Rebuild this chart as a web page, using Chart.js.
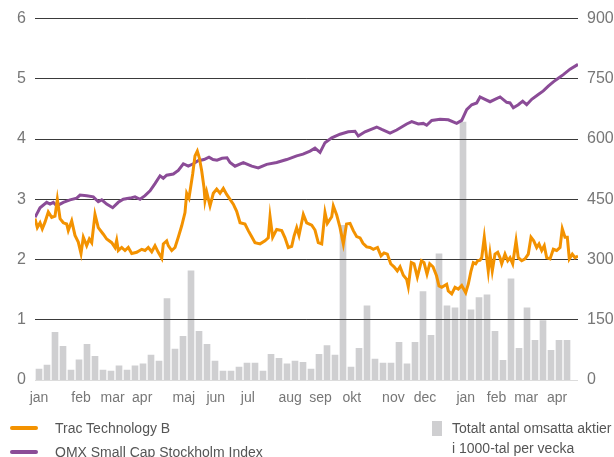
<!DOCTYPE html>
<html>
<head>
<meta charset="utf-8">
<script src="https://cdn.jsdelivr.net/npm/chart.js@4"></script>
<style>
  html, body { margin: 0; padding: 0; background: #fff; }
  #wrap { position: relative; width: 614px; height: 457px; overflow: hidden; font-family: "Liberation Sans", Arial, sans-serif; color: #555; }
  #chart { position: absolute; left: 0; top: 0; }
  .sw { position: absolute; height: 4px; width: 28px; border-radius: 2px; }
  .lbl { position: absolute; font-size: 14px; line-height: 16px; white-space: nowrap; }
  .box { position: absolute; width: 10px; height: 15px; background: #cfcfd1; }
</style>
</head>
<body>
<div id="wrap">
  <canvas id="chart" width="614" height="457"></canvas>
  <div class="sw" style="left:10px; top:426px; background:#f39200"></div>
  <div class="lbl" style="left:55px; top:420px">Trac Technology B</div>
  <div class="sw" style="left:10px; top:450px; background:#8b4c97"></div>
  <div class="lbl" style="left:55px; top:444px">OMX Small Cap Stockholm Index</div>
  <div class="box" style="left:432px; top:421px"></div>
  <div class="lbl" style="left:452px; top:420px">Totalt antal omsatta aktier</div>
  <div class="lbl" style="left:452px; top:440px">i 1000-tal per vecka</div>
</div>
<script>
/* ---- Data (x = veckor från start) ---- */
const monthLabels = ['jan','feb','mar','apr','maj','jun','jul','aug','sep','okt','nov','dec','jan','feb','mar','apr'];
const monthWeeks  = [0.5, 5.75, 9.7, 13.4, 18.6, 22.6, 26.6, 31.9, 35.7, 39.6, 44.8, 48.75, 53.85, 57.7, 61.4, 65.25];

// Totalt antal omsatta aktier per vecka (1000-tal)
const volume = [27,37,119,84,25,50,89,59,25,22, 35,25,35,40,62,47,203,77,109,272,
  121,89,47,22,22,32,42,42,22,64, 54,40,47,44,27,64,86,62,385,32,
  79,185,52,42,42,94,40,94,220,111, 314,185,180,642,175,205,212,121,49,252,
  79,180,99,148,74,99,99];

// Trac Technology B
const tracWeek = [0,0.29,0.63,0.91,1.25,1.66,2.09,2.5,2.79,3.13,3.54,3.96,4.16,4.59,5,5.41,5.75,6.04,6.46,6.79,
  7.09,7.5,7.91,8.54,8.96,9.59,10,10.21,10.41,10.84,11.25,11.66,12.09,12.71,13.34,13.75,14.16,14.59,15,15.41,
  15.84,16.04,16.46,16.66,17.09,17.5,17.91,18.34,18.75,18.96,19.25,19.71,20,20.29,20.54,20.84,21.13,21.25,21.46,21.88,
  22.29,22.71,23.13,23.54,23.96,24.38,24.79,25.21,25.63,26.25,26.66,27.09,27.5,28.13,28.75,29.16,29.38,29.71,30.21,30.84,
  31.25,31.66,32.09,32.38,32.71,33,33.54,33.96,34.59,35,35.41,35.84,36.25,36.54,37.09,37.29,37.71,38.13,38.54,38.94,
  39.38,39.79,40.21,40.63,41,41.46,41.88,42.29,42.81,43.25,43.63,44.04,44.46,44.88,45.29,45.63,46.04,46.46,46.66,47.04,
  47.38,47.79,48.31,48.63,49,49.34,49.75,50.19,50.5,50.84,51.46,51.66,52.09,52.5,52.91,53.34,53.84,54.16,54.5,54.79,
  55.09,55.34,55.63,55.84,56.16,56.46,56.66,56.88,57.16,57.5,57.84,58.13,58.34,58.75,59.09,59.38,59.71,60.13,60.41,60.84,
  61.25,61.66,62,62.34,62.71,63,63.34,63.66,63.96,64.38,64.79,65.21,65.63,65.91,66.25,66.54,66.79,67.16,67.5,67.875];
const tracPrice = [2.68,2.53,2.61,2.51,2.62,2.79,2.70,2.72,3.00,2.68,2.61,2.59,2.48,2.64,2.40,2.29,2.10,2.37,2.23,2.34,
  2.28,2.75,2.53,2.42,2.34,2.28,2.20,2.32,2.15,2.20,2.15,2.20,2.10,2.12,2.17,2.15,2.20,2.13,2.23,2.12,
  2.02,2.26,2.31,2.23,2.15,2.20,2.37,2.56,2.78,3.10,3.02,3.42,3.72,3.80,3.69,3.47,3.19,2.98,3.12,2.89,
  3.10,3.17,3.10,3.18,3.08,3.00,2.92,2.80,2.61,2.59,2.48,2.38,2.28,2.26,2.31,2.36,2.71,2.37,2.50,2.48,
  2.36,2.20,2.22,2.39,2.53,2.40,2.75,2.61,2.57,2.49,2.28,2.26,2.78,2.60,2.71,2.89,2.74,2.53,2.26,2.59,
  2.60,2.48,2.38,2.36,2.27,2.21,2.20,2.17,2.20,2.06,2.11,2.09,1.93,1.88,1.81,1.88,1.74,1.67,1.55,1.95,
  1.93,1.71,1.98,1.95,1.76,1.93,1.88,1.73,1.56,1.54,1.59,1.48,1.43,1.54,1.51,1.57,1.45,1.59,1.81,1.95,
  1.93,1.98,1.99,2.03,2.37,2.03,1.81,2.09,1.81,2.09,2.12,2.03,1.93,2.09,1.98,2.03,1.93,2.31,2.03,1.98,
  2.01,2.09,2.37,2.31,2.20,2.26,2.15,2.23,2.03,2.01,2.17,2.15,2.20,2.51,2.37,2.37,2.01,2.09,2.03,2.06];

// OMX Small Cap Stockholm Index (omräknat)
const omxWeek = [0,0.63,1.46,1.88,2.29,2.71,3.13,3.54,4.38,5.21,5.63,6.46,7.29,7.91,8.34,8.96,9.71,10.41,11.04,11.88,
  12.5,13.13,13.75,14.38,15,15.63,16.04,16.46,17.29,17.91,18.54,19.16,19.79,20.38,21.13,21.75,22.25,22.75,23.38,24,
  24.38,25,26.04,27.09,27.91,28.96,30.21,31.46,32.71,33.5,34.38,35,35.63,36.25,37.09,38.13,39.16,40,40.41,41.25,
  42.71,43.34,44.38,45.21,46.46,47.09,47.91,48.54,48.96,49.59,50.63,51.66,52.71,53.34,53.96,54.59,55.21,55.63,56.25,56.88,
  58.13,58.96,59.38,59.79,60.41,60.96,61.46,62.09,62.91,63.54,64.16,64.79,65.41,66.04,66.88,67.875];
const omxValue = [2.70,2.86,2.95,2.92,2.95,2.89,2.92,2.95,2.99,3.02,3.07,3.06,3.04,2.96,2.99,2.92,2.86,2.95,3.00,3.02,
  3.04,3.00,3.06,3.14,3.26,3.39,3.35,3.40,3.42,3.48,3.59,3.55,3.59,3.64,3.66,3.70,3.66,3.65,3.68,3.69,
  3.61,3.55,3.61,3.55,3.52,3.58,3.61,3.66,3.72,3.75,3.80,3.85,3.78,3.94,4.02,4.08,4.12,4.13,4.05,4.12,
  4.20,4.16,4.10,4.15,4.25,4.29,4.25,4.26,4.23,4.31,4.33,4.32,4.26,4.31,4.49,4.57,4.60,4.70,4.66,4.62,
  4.70,4.61,4.60,4.52,4.57,4.63,4.57,4.66,4.74,4.80,4.88,4.95,5.01,5.07,5.16,5.24];

const ORANGE = '#f39200';
const PURPLE = '#8b4c97';
const BARGREY = '#cfcfd1';
const TICKGREY = '#777';

const pairs = (xs, ys) => xs.map((x, i) => ({ x, y: ys[i] }));

/* Stödlinjer ovanpå staplarna men under kurvorna */
const gridOverBars = {
  id: 'gridOverBars',
  afterDatasetDraw(chart, args) {
    if (args.index === 0) chart.scales.y.drawGrid(chart.chartArea);
  }
};

new Chart(document.getElementById('chart'), {
  type: 'bar',
  data: {
    datasets: [
      {
        type: 'bar',
        label: 'Totalt antal omsatta aktier i 1000-tal per vecka',
        data: volume.map((v, i) => ({ x: i + 0.5, y: v })),
        backgroundColor: BARGREY,
        barThickness: 6,
        yAxisID: 'y2',
        order: 3,
      },
      {
        type: 'line',
        label: 'OMX Small Cap Stockholm Index',
        data: pairs(omxWeek, omxValue),
        borderColor: PURPLE,
        borderWidth: 3,
        pointRadius: 0,
        tension: 0,
        yAxisID: 'y',
        order: 2,
      },
      {
        type: 'line',
        label: 'Trac Technology B',
        data: pairs(tracWeek, tracPrice),
        borderColor: ORANGE,
        borderWidth: 3,
        pointRadius: 0,
        tension: 0,
        yAxisID: 'y',
        order: 1,
      },
    ],
  },
  options: {
    responsive: false,
    animation: false,
    layout: { padding: { top: 17, bottom: 47, left: 0, right: 0 } },
    plugins: { legend: { display: false }, tooltip: { enabled: false } },
    scales: {
      x: {
        type: 'linear',
        min: 0,
        max: 67.875,
        offset: false,
        grid: { display: false, drawTicks: false },
        border: { display: false },
        afterBuildTicks: s => { s.ticks = monthWeeks.map(v => ({ value: v })); },
        afterFit: s => { s.height = 30; },
        ticks: {
          autoSkip: false,
          maxRotation: 0,
          padding: 10,
          color: TICKGREY,
          font: { family: 'Liberation Sans', size: 14 },
          callback: (v, i) => monthLabels[i],
        },
      },
      y: {
        position: 'left',
        min: 0,
        max: 6,
        grid: {
          color: c => c.tick.value === 0 ? '#dcdcdc' : '#3a3a3a',
          lineWidth: 1,
          drawTicks: false,
        },
        border: { display: false },
        afterFit: s => { s.width = 35; },
        ticks: {
          stepSize: 1,
          padding: 9,
          color: TICKGREY,
          font: { family: 'Liberation Sans', size: 16 },
        },
      },
      y2: {
        position: 'right',
        min: 0,
        max: 900,
        grid: { display: false, drawTicks: false },
        border: { display: false },
        afterFit: s => { s.width = 36; },
        ticks: {
          stepSize: 150,
          padding: 9,
          color: TICKGREY,
          font: { family: 'Liberation Sans', size: 16 },
        },
      },
    },
  },
  plugins: [gridOverBars],
});
</script>
</body>
</html>
